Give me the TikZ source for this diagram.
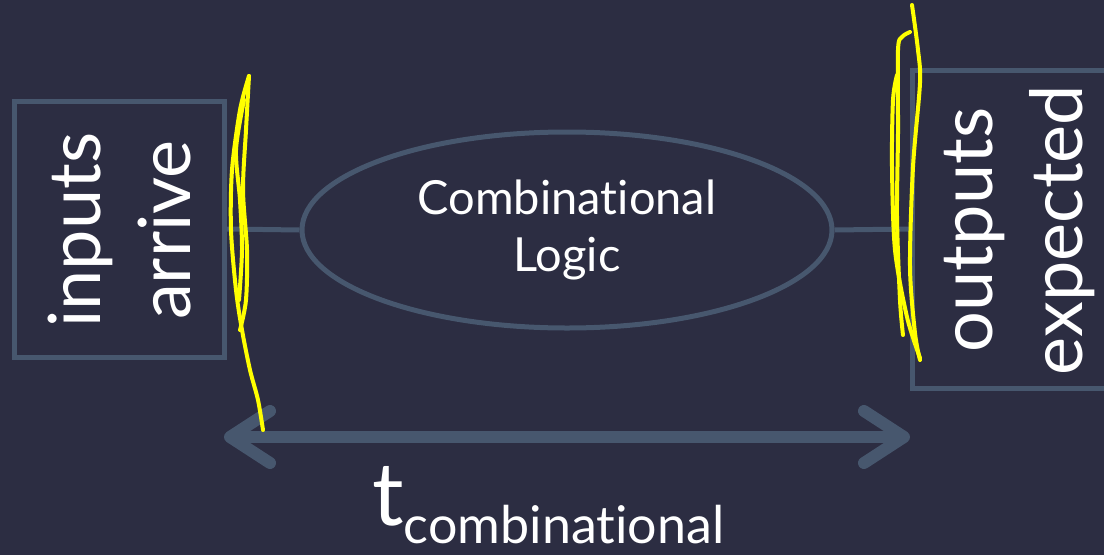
\documentclass[tikz,border=0pt]{standalone}
\usepackage{fontspec}
\setmainfont{Lato}[Ligatures=NoCommon]
\usetikzlibrary{arrows.meta,shapes.geometric}
\definecolor{slidebg}{RGB}{44,45,66}
\definecolor{wire}{RGB}{71,87,110}
\definecolor{marker}{RGB}{255,255,0}

\begin{document}
\begin{tikzpicture}[x=1pt,y=-1pt,
  box/.style={draw=wire,line width=5pt,rectangle,inner sep=0pt},
  lbl/.style={text=white,rotate=90,align=center,font=\fontsize{72}{90}\selectfont},
  wireline/.style={draw=wire,line width=5pt},
  span/.style={draw=wire,line width=12pt,{Straight Barb[length=40pt,width=52pt,round]}-{Straight Barb[length=40pt,width=52pt,round]}},
  scribble/.style={draw=marker,line width=4pt,line cap=round,line join=round}]
\fill[slidebg] (0,0) rectangle (1104,555);
\useasboundingbox (0,0) rectangle (1104,555);
% boxes and logic
\node[box,minimum width=210pt,minimum height=256pt] (inbox) at (119,229) {};
\node[box,minimum width=240pt,minimum height=318pt,anchor=west] (outbox) at (910,229) {};
\node[lbl] (inlbl) at (120,230) {inputs\\arrive};
\node[lbl] (outlbl) at (1020,230) {outputs\\expected};
\node[draw=wire,line width=5pt,ellipse,minimum width=530pt,minimum height=196pt,
  text=white,align=center,font=\fontsize{47}{57}\selectfont] (logic) at (567,230) {Combinational\\Logic};
\draw[wireline] (inbox.east) -- (logic.west);
\draw[wireline] (logic.east) -- (outbox.west);
% timing span
\coordinate (spanl) at (224,437);
\coordinate (spanr) at (910,437);
\draw[span] (spanl) -- (spanr);
\node[text=white,anchor=base west,inner sep=0pt] (tlbl) at (372,525)
  {\fontsize{88}{90}\selectfont t\fontsize{52}{54}\selectfont\raisebox{-18pt}{combinational}};
% yellow marks
\draw[scribble] plot[smooth] coordinates {(249,76) (240,110) (232,170) (231,230) (236,290) (242,330) (250,370) (258,400) (263,430)};
\draw[scribble] plot[smooth] coordinates {(249,76) (246,130) (243,190) (247,250) (246,300) (240,330)};
\draw[scribble] plot[smooth] coordinates {(244,100) (236,150) (240,200) (242,250) (239,300)};
\draw[scribble] plot[smooth] coordinates {(912,5) (918,50) (920,83) (913,167) (910,267) (915,333) (920,360)};
\draw[scribble] plot[smooth] coordinates {(910,32) (902,37) (898,50) (898,133) (897,217) (900,300) (903,335)};
\draw[scribble] plot[smooth] coordinates {(897,75) (893,100) (892,167) (895,250) (907,317) (920,358)};
\end{tikzpicture}
\end{document}
